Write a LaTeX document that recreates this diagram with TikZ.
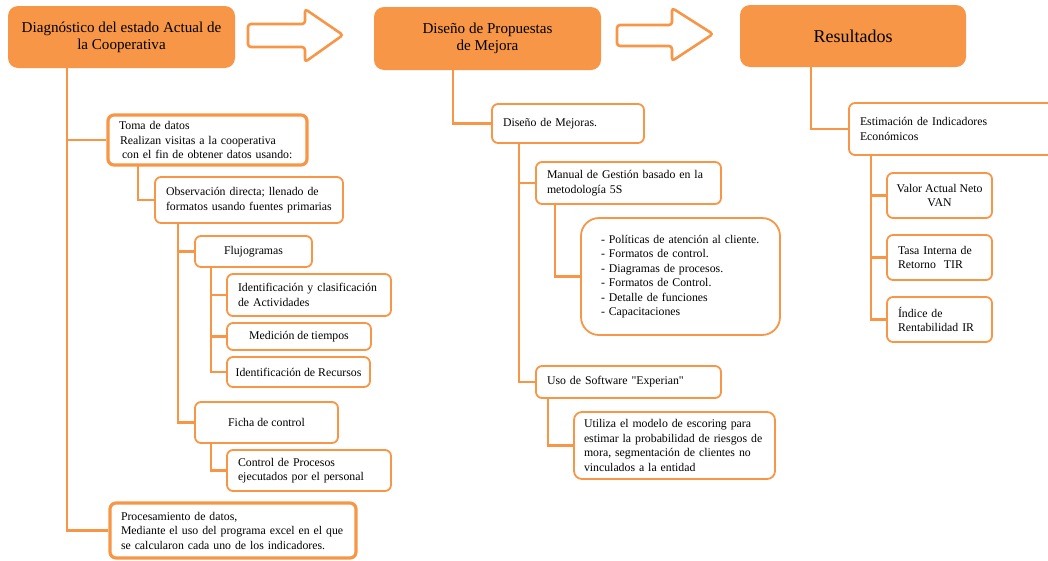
\documentclass[tikz,border=0pt]{standalone}
\usepackage{fontspec}
\setmainfont{Liberation Serif}
\definecolor{naranja}{HTML}{F79646}
\tikzset{
  cabeza/.style={fill=naranja, rounded corners=10pt, align=center, font=\fontsize{15.1}{17}\selectfont},
  caja/.style={draw=naranja, line width=1.8pt, rounded corners=6pt, fill=white, inner xsep=11pt,
    align=left, font=\fontsize{11.8}{14.5}\selectfont},
  centrada/.style={caja, align=center, inner xsep=4pt},
  gruesa/.style={line width=3.2pt},
  conn/.style={draw=naranja, line width=2.2pt},
  tronco/.style={draw=naranja, line width=2.8pt},
  flecha/.style={draw=naranja, fill=white, line width=2.6pt, rounded corners=3pt}
}
\begin{document}
\begin{tikzpicture}[x=1pt,y=-1pt]
\clip (0,0) rectangle (1048,560);
% encabezados
\node[cabeza, minimum width=227, minimum height=62] (h1) at (121.5,37) {Diagnóstico del estado Actual de\\la Cooperativa};
\node[cabeza, minimum width=227, minimum height=63] (h2) at (487.5,38.5) {Diseño de Propuestas\\de Mejora};
\node[cabeza, minimum width=226, minimum height=62, font=\fontsize{18}{20}\selectfont] (h3) at (853,36) {Resultados};
\draw[flecha] (248,24) -- (305,24) -- (305,9) -- (343,35) -- (305,62) -- (305,47) -- (248,47) -- cycle;
\draw[flecha] (617,25) -- (672,25) -- (672,8) -- (713,34) -- (672,61) -- (672,46) -- (617,46) -- cycle;

% diagnostico
\node[caja, gruesa, text width=177, minimum height=50] (toma) at (207.5,140) {Toma de datos\\\hspace*{1pt}Realizan visitas a la cooperativa\\\hspace*{3pt}con el fin de obtener datos usando:};
\node[caja, text width=166, minimum height=46] (obs) at (249,200) {Observación directa; llenado de\\formatos usando fuentes primarias};
\node[centrada, minimum width=117, minimum height=31] (fluj) at (253.5,251.5) {Flujogramas};
\node[caja, text width=142, minimum height=42] (ident) at (309,295) {Identificación y clasificación\\de Actividades};
\node[centrada, minimum width=144, minimum height=27] (medic) at (299,336.5) {Medición de tiempos};
\node[centrada, minimum width=143, minimum height=30] (recur) at (298.5,372) {Identificación de Recursos};
\node[centrada, minimum width=143, minimum height=41] (ficha) at (266.5,422.5) {Ficha de control};
\node[caja, text width=142, minimum height=41] (ctrl) at (309,470.5) {Control de Procesos\\ejecutados por el personal};
\node[caja, gruesa, text width=224, minimum height=55] (proc) at (233,530.5) {Procesamiento de datos,\\Mediante el uso del programa excel en el que\\se calcularon cada uno de los indicadores.};

% propuestas
\node[caja, text width=130, minimum height=39] (mej) at (568,123.5) {Diseño de Mejoras.};
\node[caja, text width=163, minimum height=42] (manual) at (628.5,183) {Manual de Gestión basado en la\\metodología 5S};
\node[caja, rounded corners=18pt, inner xsep=14pt, text width=171, minimum height=117] (lista) at (680.5,276.5) {\hspace*{6pt}- Políticas de atención al cliente.\\\hspace*{6pt}- Formatos de control.\\\hspace*{6pt}- Diagramas de procesos.\\\hspace*{6pt}- Formatos de Control.\\\hspace*{6pt}- Detalle de funciones\\\hspace*{6pt}- Capacitaciones\\[4pt]};
\node[caja, text width=163, minimum height=32] (uso) at (628.5,382) {Uso de Software \textquotedbl Experian\textquotedbl};
\node[caja, rounded corners=8pt, inner xsep=10pt, text width=181, minimum height=67] (util) at (674.5,445.5) {Utiliza el modelo de escoring para\\estimar la probabilidad de riesgos de\\mora, segmentación de clientes no\\vinculados a la entidad};

% resultados
\node[caja, text width=189, minimum height=52] (estim) at (954.5,129) {Estimación de Indicadores\\Económicos};
\node[centrada, minimum width=105, minimum height=45] (van) at (939.5,195.5) {Valor Actual Neto\\VAN};
\node[caja, text width=83, minimum height=45] (tir) at (939.5,257.5) {Tasa Interna de\\Retorno\ \ TIR};
\node[caja, text width=83, minimum height=45] (ir) at (939.5,319.5) {Índice de\\Rentabilidad IR};

\coordinate (t1) at (67,68);
\coordinate (t2) at (138,165);
\coordinate (t3) at (178,223);
\coordinate (t4) at (211,267);
\coordinate (t5) at (211,443);
\coordinate (t6) at (453,70);
\coordinate (t7) at (519,143);
\coordinate (t8) at (555,204);
\coordinate (t9) at (548,398);
\coordinate (t10) at (811,67);
\coordinate (t11) at (871,155);

\draw[tronco] (t1) |- (toma.west);
\draw[tronco] (t1) |- (proc.west);
\draw[conn] (t2) |- (obs.west);
\draw[conn] (t3) |- (fluj.west);
\draw[conn] (t3) |- (ficha.west);
\foreach \n in {ident,medic,recur}
  \draw[conn] (t4) |- (\n.west);
\draw[conn] (t5) |- (ctrl.west);
\draw[tronco] (t6) |- (mej.west);
\draw[conn] (t7) |- (manual.west);
\draw[conn] (t7) |- (uso.west);
\draw[conn] (t8) |- (lista.west);
\draw[conn] (t9) |- (util.west);
\draw[tronco] (t10) |- (estim.west);
\foreach \n in {van,tir,ir}
  \draw[conn] (t11) |- (\n.west);
\end{tikzpicture}
\end{document}
